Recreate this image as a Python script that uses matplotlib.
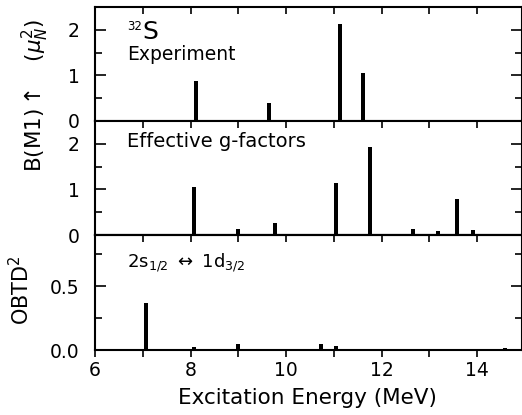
import numpy as np
import matplotlib
matplotlib.use('Agg')
from matplotlib import pyplot as plt
from matplotlib.ticker import MultipleLocator

plt.rcParams['font.family'] = 'DejaVu Sans'
plt.rcParams['mathtext.fontset'] = 'dejavusans'

# experiment B(M1) strengths
exp_e = [8.12, 9.65, 11.12, 11.62]
exp_b = [0.88, 0.39, 2.12, 1.06]

# effective g-factor calculation
eff_e = [7.05, 8.08, 9.00, 9.77, 10.73, 11.04, 11.75, 12.65, 12.87, 13.19,
         13.57, 13.92, 14.23, 14.48, 14.75]
eff_b = [0.01, 1.05, 0.13, 0.27, 0.03, 1.14, 1.92, 0.13, 0.02, 0.08,
         0.78, 0.11, 0.01, 0.01, 0.02]

# OBTD^2 for 2s1/2 <-> 1d3/2
ob_e = [6.10, 7.06, 8.08, 9.00, 9.77, 10.73, 11.04, 11.75, 12.65, 12.87,
        13.19, 13.57, 13.92, 14.41, 14.59, 14.75]
ob_v = [0.003, 0.37, 0.022, 0.045, 0.004, 0.045, 0.035, 0.003, 0.005, 0.005,
        0.004, 0.008, 0.005, 0.006, 0.012, 0.005]

fig = plt.figure(figsize=(5.22, 4.15), dpi=100)
L, W = 95/522, 427/522
ax1 = fig.add_axes([L, (415-121)/415, W, 114/415])
ax2 = fig.add_axes([L, (415-235)/415, W, 114/415])
ax3 = fig.add_axes([L, (415-350)/415, W, 115/415])

bw = 0.085
ax1.bar(exp_e, exp_b, width=bw, color='k')
ax2.bar(eff_e, eff_b, width=bw, color='k')
ax3.bar(ob_e, ob_v, width=bw, color='k')

ax1.set_ylim(0, 2.5)
ax2.set_ylim(0, 2.5)
ax3.set_ylim(0, 0.9)
for ax in (ax1, ax2):
    ax.yaxis.set_major_locator(MultipleLocator(1))
    ax.yaxis.set_minor_locator(MultipleLocator(0.5))
ax3.yaxis.set_major_locator(MultipleLocator(0.5))
ax3.yaxis.set_minor_locator(MultipleLocator(0.25))
ax3.set_yticks([0.0, 0.5])
ax3.set_yticklabels(['0.0', '0.5'])

for ax in (ax1, ax2, ax3):
    ax.set_xlim(6, 14.94)
    ax.xaxis.set_major_locator(MultipleLocator(2))
    ax.xaxis.set_minor_locator(MultipleLocator(1))
    for s in ax.spines.values():
        s.set_linewidth(1.5)
    ax.tick_params(axis='y', which='major', direction='in', length=8, width=1.2,
                   left=True, right=True, labelsize=13.5, pad=11)
    ax.tick_params(axis='y', which='minor', direction='in', length=5, width=1.2,
                   left=True, right=True)

for ax in (ax1, ax2):
    ax.tick_params(axis='x', which='both', direction='in', length=5, width=1.2,
                   top=True, bottom=False, labelbottom=False)

# bottom panel: ticks point inward on top, outward on the bottom
ax3.tick_params(axis='x', which='both', direction='out', length=5, width=1.2,
                top=False, bottom=True, labelsize=13.5, pad=3)
top3 = ax3.secondary_xaxis('top')
top3.xaxis.set_major_locator(MultipleLocator(1))
top3.tick_params(axis='x', which='both', direction='in', length=5, width=1.2,
                 labeltop=False)
top3.spines['top'].set_linewidth(1.5)

ax1.text(0.075, 0.885, '32', transform=ax1.transAxes, fontsize=8.5, va='top')
ax1.text(0.112, 0.715, 'S', transform=ax1.transAxes, fontsize=18, va='baseline')
ax1.text(0.075, 0.535, 'Experiment', transform=ax1.transAxes, fontsize=13.5, va='baseline')
ax2.text(0.075, 0.772, 'Effective g-factors', transform=ax2.transAxes, fontsize=14,
         va='baseline')
ax3.text(0.075, 0.72, r'2s$_{1/2}$ $\leftrightarrow$ 1d$_{3/2}$', transform=ax3.transAxes,
         fontsize=13, va='baseline')

fig.text(35/522, 1 - 95/415, r'B(M1)$\uparrow$   ($\mu_N^2$)', rotation=90,
         ha='center', va='center', fontsize=15.5)
fig.text(21/522, 1 - 290/415, 'OBTD$^2$', rotation=90, ha='center', va='center',
         fontsize=15)
fig.text(307/522, 1 - 398/415, 'Excitation Energy (MeV)', ha='center', va='center',
         fontsize=15.5)

fig.savefig('out.png', dpi=100)
